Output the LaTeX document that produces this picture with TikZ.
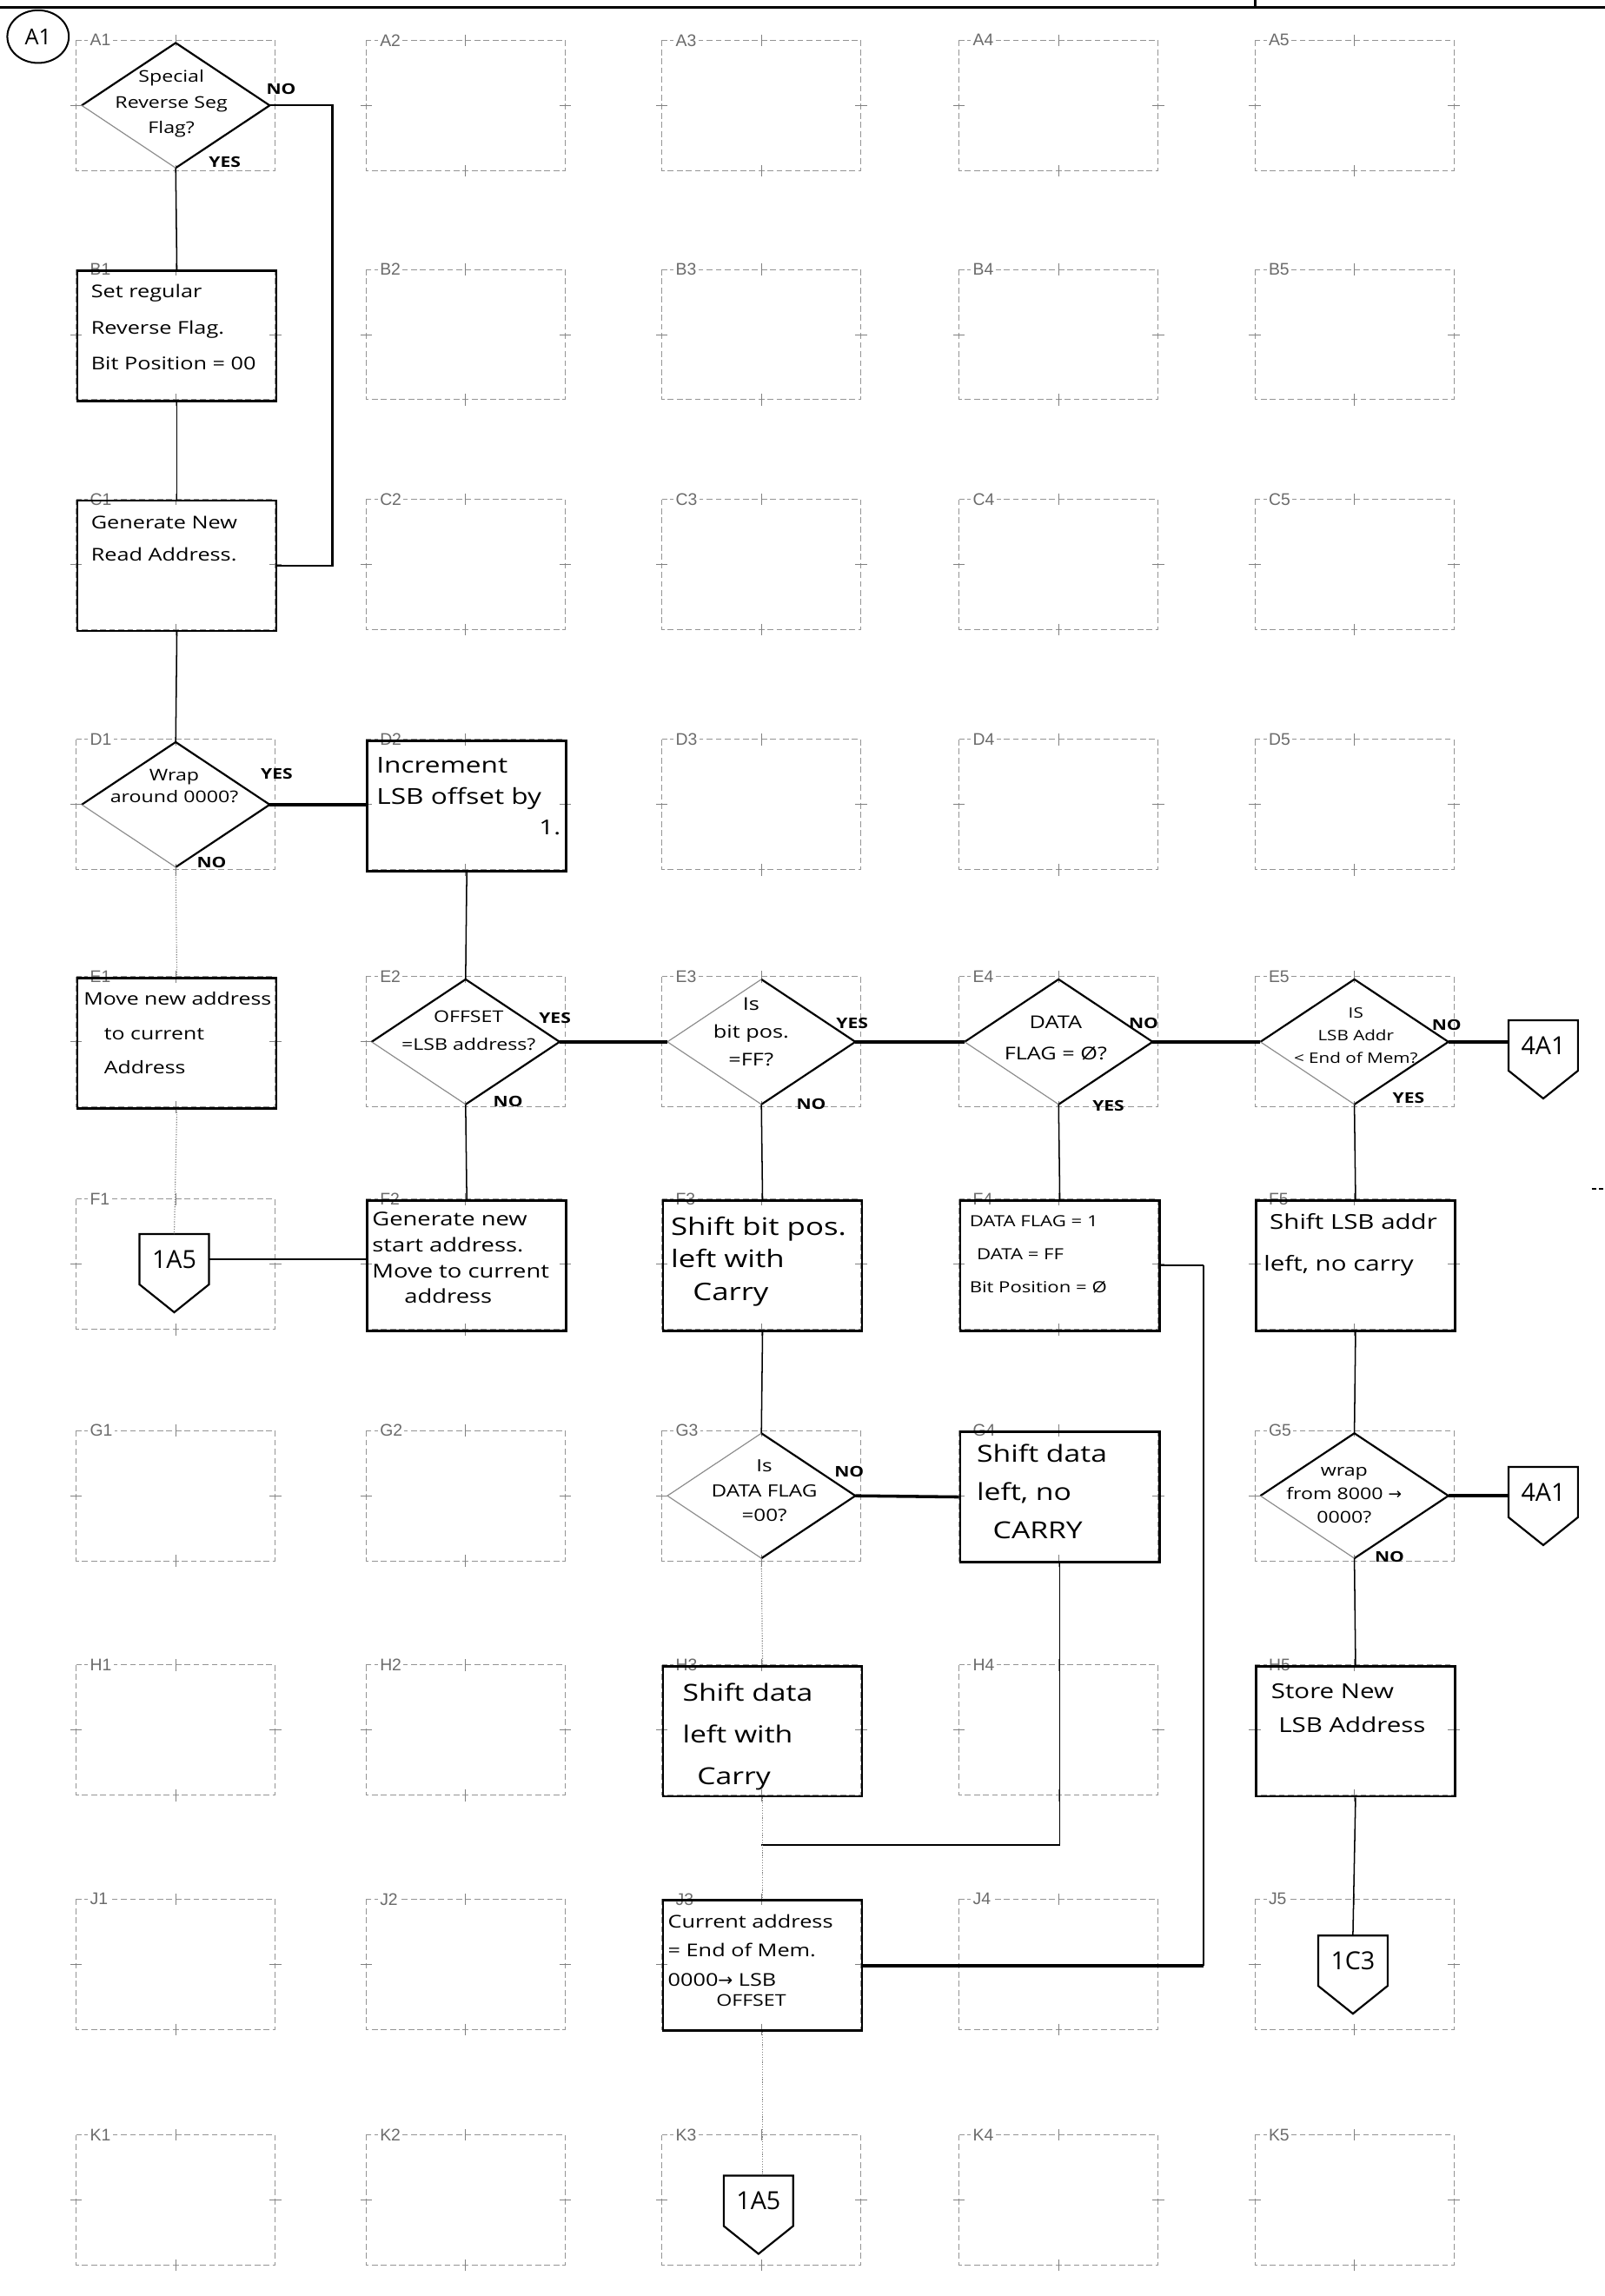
\documentclass[tikz,border=0pt]{standalone}
\usepackage{fontspec}
\setmainfont[FakeStretch=1.25]{Open Sans}
\newfontfamily\plainhand{Open Sans}
\newfontfamily\gridfont{Liberation Sans}
\newfontfamily\arrowfont{DejaVu Sans}
\usetikzlibrary{shapes.geometric,calc}

\tikzset{
  cellline/.style={draw=black!42, line width=0.6pt, dash pattern=on 4pt off 2.2pt},
  celltick/.style={draw=black!50, line width=0.6pt},
  celllabel/.style={font=\gridfont\fontsize{11.5}{12}\selectfont, text=black!58, fill=white, inner sep=1.3pt, anchor=west},
  procbox/.style={draw=black, line width=1.6pt, minimum width=136pt, minimum height=89pt, inner sep=0pt, anchor=north west},
  decshape/.style={diamond, draw=none, minimum width=128pt, minimum height=85pt, inner sep=0pt},
  decedge/.style={draw=black, line width=1.3pt, line join=round},
  decfaint/.style={draw=black!45, line width=0.7pt},
  offpage/.style={minimum width=47pt, minimum height=34pt, inner sep=0pt, font=\plainhand\fontsize{17}{18}\selectfont},
  offline/.style={draw=black, line width=1.3pt, line join=miter},
  flow/.style={draw=black, line width=0.9pt},
  flowmed/.style={draw=black, line width=1.4pt},
  flowthick/.style={draw=black, line width=2.1pt},
  flowfaint/.style={draw=black!50, line width=0.7pt, densely dotted},
  hand/.style={inner sep=0pt, align=left, anchor=west, font=\fontsize{12}{22}\selectfont},
  handc/.style={inner sep=0pt, align=center},
  yn/.style={inner sep=0pt, font=\bfseries\fontsize{10}{11}\selectfont}
}

\begin{document}
\begin{tikzpicture}[x=1pt, y=-1pt]
\useasboundingbox (0,0) rectangle (1096,1568);

% sheet frame line and reference
\draw[line width=2.2pt] (0,5) -- (1096,5);
\draw[line width=1.8pt] (857,0) -- (857,6);
\draw[line width=0.9pt, dash pattern=on 3pt off 2pt] (1087,812) -- (1096,812);
\node[draw, ellipse, line width=1.2pt, minimum width=42pt, minimum height=36pt, inner sep=0pt,
      font=\plainhand\fontsize{15}{16}\selectfont] (sheet) at (26,25) {A1};

% grid of cells
\foreach \rw/\tp in {A/27.5, B/184, C/341, D/505, E/667, F/819, G/977, H/1137, J/1297, K/1458}{
  \foreach \cl/\lf in {1/52, 2/250, 3/452, 4/655, 5/857}{
    \draw[cellline] (\lf,\tp) rectangle ++(136,89);
    \draw[celltick] (\lf+68,\tp-4) -- (\lf+68,\tp+4);
    \draw[celltick] (\lf+68,\tp+85) -- (\lf+68,\tp+93);
    \draw[celltick] (\lf-4,\tp+44.5) -- (\lf+4,\tp+44.5);
    \draw[celltick] (\lf+132,\tp+44.5) -- (\lf+140,\tp+44.5);
    \node[celllabel] (lab\rw\cl) at (\lf+8,\tp) {\rw\cl};
  }
}

% process boxes
\node[procbox] (B1) at (52,184) {};
\node[procbox] (C1) at (52,341) {};
\node[procbox] (D2) at (250,505) {};
\node[procbox] (E1) at (52,667) {};
\node[procbox] (F2) at (250,819) {};
\node[procbox] (F3) at (452,819) {};
\node[procbox] (F4) at (655,819) {};
\node[procbox] (F5) at (857,819) {};
\node[procbox] (G4) at (655,977) {};
\node[procbox] (H3) at (452,1137) {};
\node[procbox] (H5) at (857,1137) {};
\node[procbox] (J3) at (452,1297) {};

% decisions
\node[decshape] (A1) at (120,72) {};
\node[decshape] (D1) at (120,549.5) {};
\node[decshape] (E2) at (318,711.5) {};
\node[decshape] (E3) at (520,711.5) {};
\node[decshape] (E4) at (723,711.5) {};
\node[decshape] (E5) at (925,711.5) {};
\node[decshape] (G3) at (520,1021.5) {};
\node[decshape] (G5) at (925,1021.5) {};
\foreach \d in {A1,D1,E2,E4,E5,G5}{
  \draw[decedge] (\d.west) -- (\d.north) -- (\d.east) -- (\d.south);
  \draw[decfaint] (\d.south) -- (\d.west);
}
\foreach \d in {E3,G3}{
  \draw[decedge] (\d.north) -- (\d.east) -- (\d.south);
  \draw[decfaint] (\d.south) -- (\d.west) -- (\d.north);
}

% off-page connectors
\node[offpage] (F1p) at (119,860) {1A5};
\node[offpage] (E5p) at (1054,714) {4A1};
\node[offpage] (G5p) at (1054,1019) {4A1};
\node[offpage] (J5p) at (924,1339) {1C3};
\node[offpage] (K3p) at (518,1503) {1A5};
\foreach \p in {F1p,E5p,G5p,J5p,K3p}{
  \draw[offline] (\p.north west) -- (\p.north east) -- (\p.south east)
     -- ([yshift=-19pt]\p.south) -- (\p.south west) -- cycle;
}

% connectors
\coordinate (a1no) at (227,72);
\coordinate (rail) at (822,865);
\coordinate (jn) at (520,1260);

\draw[flow] (A1.south) -- (B1.north);
\draw[flowmed] (A1.east) -- (a1no) |- (C1.east);
\draw[flow] (B1.south) -- (C1.north);
\draw[flow] (C1.south) -- (D1.north);
\draw[flowthick] (D1.east) -- (D2.west |- D1.east);
\draw[flowfaint] (D1.south) -- (E1.north);
\draw[flow] (D2.south) -- (E2.north);
\draw[flowfaint] (E1.south) -- (F1p.north);
\draw[flowmed] (F1p.east) -- (F1p.east -| F2.west);
\draw[flowthick] (E2.east) -- (E3.west);
\draw[flow] (E2.south) -- (F2.north);
\draw[flowthick] (E3.east) -- (E4.west);
\draw[flow] (E3.south) -- (F3.north);
\draw[flowthick] (E4.east) -- (E5.west);
\draw[flow] (E4.south) -- (F4.north);
\draw[flowthick] (E5.east) -- (E5.east -| E5p.west);
\draw[flow] (E5.south) -- (F5.north);
\draw[flowmed] (F4.east) -- (F4.east -| rail);
\draw[flow] (F4.east -| rail) -- (J3.east -| rail);
\draw[flowthick] (J3.east -| rail) -- (J3.east);
\draw[flow] (F3.south) -- (G3.north);
\draw[flow] (F5.south) -- (G5.north);
\draw[flowthick] (G3.east) -- (G4.west);
\draw[flowfaint] (G3.south) -- (H3.north);
\draw[flow] (G4.south) -- (G4.south |- jn);
\draw[flowmed] (G4.south |- jn) -- (jn);
\draw[flowthick] (G5.east) -- (G5.east -| G5p.west);
\draw[flow] (G5.south) -- (H5.north);
\draw[flowfaint] (H3.south) -- (J3.north);
\draw[flow] (H5.south) -- (J5p.north);
\draw[flowfaint] (J3.south) -- (J3.south |- K3p.north);

% box texts
\node[hand, font=\fontsize{12}{24.5}\selectfont] (tB1) at (62,223.5) {Set regular\\Reverse Flag.\\Bit Position = 00};
\node[hand, font=\fontsize{12}{22}\selectfont] (tC1) at (62,368) {Generate New\\Read Address.};
\node[hand, font=\fontsize{15}{21.5}\selectfont] (tD2) at (257,535) {Increment\\LSB offset by};
\node[hand, font=\fontsize{14}{15}\selectfont] (tD2b) at (368,565) {1.};
\node[hand, font=\fontsize{11.8}{23.3}\selectfont] (tE1) at (57,705.4) {Move new address\\\hspace*{14pt}to current\\\hspace*{14pt}Address};
\node[hand, font=\fontsize{13}{17.7}\selectfont] (tF2) at (254,859) {Generate new\\start address.\\Move to current\\\hspace*{22pt}address};
\node[hand, font=\fontsize{16.5}{22.3}\selectfont] (tF3) at (458,861.5) {Shift bit pos.\\left with\\\hspace*{15pt}Carry};
\node[hand, font=\fontsize{10.5}{22.5}\selectfont] (tF4) at (662,856.5) {DATA FLAG = 1\\\hspace*{5pt}DATA = FF\\Bit Position = Ø};
\node[hand, font=\fontsize{14}{28.5}\selectfont] (tF5) at (863,850) {\hspace*{4pt}Shift LSB addr\\left, no carry};
\node[hand, font=\fontsize{16}{26}\selectfont] (tG4) at (667,1018.5) {Shift data\\left, no\\\hspace*{11pt}CARRY};
\node[hand, font=\fontsize{16}{28.5}\selectfont] (tH3) at (466,1186) {Shift data\\left with\\\hspace*{10pt}Carry};
\node[hand, font=\fontsize{14}{23}\selectfont] (tH5) at (868,1166.5) {Store New\\\hspace*{5pt}LSB Address};
\node[hand, font=\fontsize{12}{20}\selectfont] (tJ3) at (456,1332) {Current address\\= End of Mem.\\0000{\arrowfont →} LSB};
\node[hand, font=\fontsize{11}{12}\selectfont] (tJ3b) at (489,1366) {OFFSET};

% decision texts
\node[handc, font=\fontsize{11}{17.5}\selectfont] (tA1) at (117,71) {Special\\Reverse Seg\\Flag?};
\node[handc, font=\fontsize{11}{15}\selectfont] (tD1) at (119,537) {Wrap\\around 0000?};
\node[handc, font=\fontsize{11}{19}\selectfont] (tE2) at (320,704) {OFFSET\\=LSB address?};
\node[handc, font=\fontsize{12}{19}\selectfont] (tE3) at (513,705) {Is\\bit pos.\\=FF?};
\node[handc, font=\fontsize{12}{21}\selectfont] (tE4) at (721,709) {DATA\\FLAG = Ø?};
\node[handc, font=\fontsize{9.8}{15.5}\selectfont] (tE5) at (926,707) {IS\\LSB Addr\\< End of Mem?};
\node[handc, font=\fontsize{11.5}{17}\selectfont] (tG3) at (522,1018) {Is\\DATA FLAG\\=00?};
\node[handc, font=\fontsize{11}{16}\selectfont] (tG5) at (918,1021) {wrap\\from 8000 {\arrowfont →}\\0000?};

% YES / NO labels
\node[yn] (nA1) at (192,61) {NO};
\node[yn] (yA1) at (153.5,110.5) {YES};
\node[yn] (yD1) at (189,528.5) {YES};
\node[yn] (nD1) at (144.5,589) {NO};
\node[yn] (yE2) at (379,695) {YES};
\node[yn] (nE2) at (347,752) {NO};
\node[yn] (yE3) at (582,699) {YES};
\node[yn] (nE3) at (554,754) {NO};
\node[yn] (nE4) at (781,699) {NO};
\node[yn] (yE4) at (757,755) {YES};
\node[yn] (nE5) at (988,700) {NO};
\node[yn] (yE5) at (962,750) {YES};
\node[yn] (nG3) at (580,1005) {NO};
\node[yn] (nG5) at (949,1063.5) {NO};
\end{tikzpicture}
\end{document}
